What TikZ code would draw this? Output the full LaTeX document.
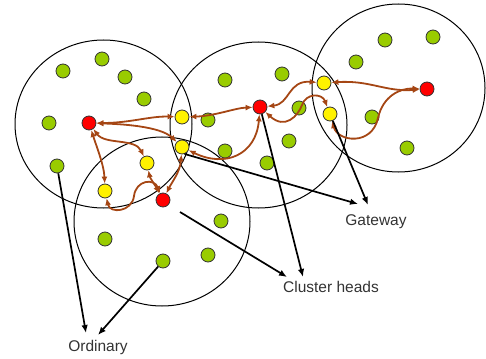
\documentclass[tikz,border=0pt]{standalone}
\usepackage{fontspec}
\setmainfont{Liberation Sans}
\usetikzlibrary{arrows.meta}
\definecolor{nodegreen}{RGB}{153,204,0}
\definecolor{linkbrown}{RGB}{165,70,20}

\begin{document}
\begin{tikzpicture}[x=1pt,y=-1pt,
  sensor/.style={circle,draw=black!80,line width=0.8pt,minimum size=14pt,inner sep=0pt},
  plain/.style={sensor,fill=nodegreen},
  head/.style={sensor,fill=red},
  gate/.style={sensor,fill=yellow},
  cluster/.style={draw=black,line width=1pt},
  link/.style={linkbrown,line width=1.8pt,{Latex[length=7pt,width=6pt]}-{Latex[length=7pt,width=6pt]}},
  pointer/.style={black,line width=1.7pt,-{Latex[length=8pt,width=6.5pt]}},
  caption/.style={font=\fontsize{15.5}{18}\selectfont,text=black!80}]

\useasboundingbox (0,0) rectangle (486,358);

% cluster ranges
\draw[cluster] (103.5,124) ellipse [x radius=88.5pt, y radius=84pt];
\draw[cluster] (258.5,125) ellipse [x radius=88.5pt, y radius=83pt];
\draw[cluster] (398.5,88) ellipse [x radius=86.5pt, y radius=84pt];
\draw[cluster] (162,221.5) ellipse [x radius=88pt, y radius=84.5pt];

% ordinary sensors
\foreach \i/\p in {1/{(102,59)},2/{(63,71)},3/{(125,77)},4/{(144,99)},5/{(49,123)},
  6/{(57,166)},7/{(208,120)},8/{(225,80)},9/{(225,151)},10/{(282,74)},11/{(385,40)},
  12/{(433,37)},13/{(356,62)},14/{(299,108)},15/{(372,117)},16/{(289,141)},
  17/{(267,163)},18/{(407,148)},19/{(105,239)},20/{(163,261)},21/{(208,255)},22/{(221,221)}}
  \node[plain] (g\i) at \p {};

% cluster heads
\node[head] (r1) at (89,123) {};
\node[head] (r2) at (260,107) {};
\node[head] (r3) at (163,200) {};
\node[head] (r4) at (427,89) {};

% gateways
\node[gate] (y1) at (182,117) {};
\node[gate] (y2) at (182,147) {};
\node[gate] (y3) at (147,163) {};
\node[gate] (y4) at (105,191) {};
\node[gate] (y5) at (324,83) {};
\node[gate] (y6) at (330,114) {};

% routing links
\draw[link] (r1) .. controls (130,123) and (150,116) .. (y1);
\draw[link] (r1) .. controls (120,124) and (160,126) .. (y2);
\draw[link] (r1) .. controls (105,145) and (135,138) .. (y3);
\draw[link] (r1) .. controls (96,145) and (104,165) .. (y4);
\draw[link] (y4) .. controls (110,214) and (132,212) .. (134,196)
                 .. controls (136,180) and (154,178) .. (r3);
\draw[link] (y3) .. controls (150,178) and (155,185) .. (r3);
\draw[link] (r3) .. controls (172,182) and (180,172) .. (y2);
\draw[link] (y1) .. controls (215,116) and (235,108) .. (r2);
\draw[link] (y2) .. controls (225,168) and (256,155) .. (r2);
\draw[link] (r2) .. controls (290,104) and (288,80) .. (y5);
\draw[link] (r2) .. controls (285,130) and (298,116) .. (302,105)
                 .. controls (306,93) and (322,93) .. (y6);
\draw[link] (y5) .. controls (370,80) and (385,92) .. (r4);
\draw[link] (y6) .. controls (338,142) and (372,146) .. (378,118)
                 .. controls (383,96) and (400,88) .. (r4);

% label pointers
\coordinate (o1) at (86,333);
\coordinate (o2) at (98,335);
\coordinate (h0) at (180,212);
\coordinate (h1) at (287,277);
\coordinate (h2) at (303,277);
\coordinate (w1) at (358,204);
\coordinate (w2) at (368,205);
\draw[pointer] (g6) -- (o1);
\draw[pointer] (g20) -- (o2);
\draw[pointer] (h0) -- (h1);
\draw[pointer] (r2) -- (h2);
\draw[pointer] (y2.-70) -- (w1);
\draw[pointer] (y6) -- (w2);

% captions
\node[caption] (tg) at (376,222) {Gateway};
\node[caption] (tc) at (331,287) {Cluster heads};
\node[caption] (to) at (98,347) {Ordinary};
\end{tikzpicture}
\end{document}
